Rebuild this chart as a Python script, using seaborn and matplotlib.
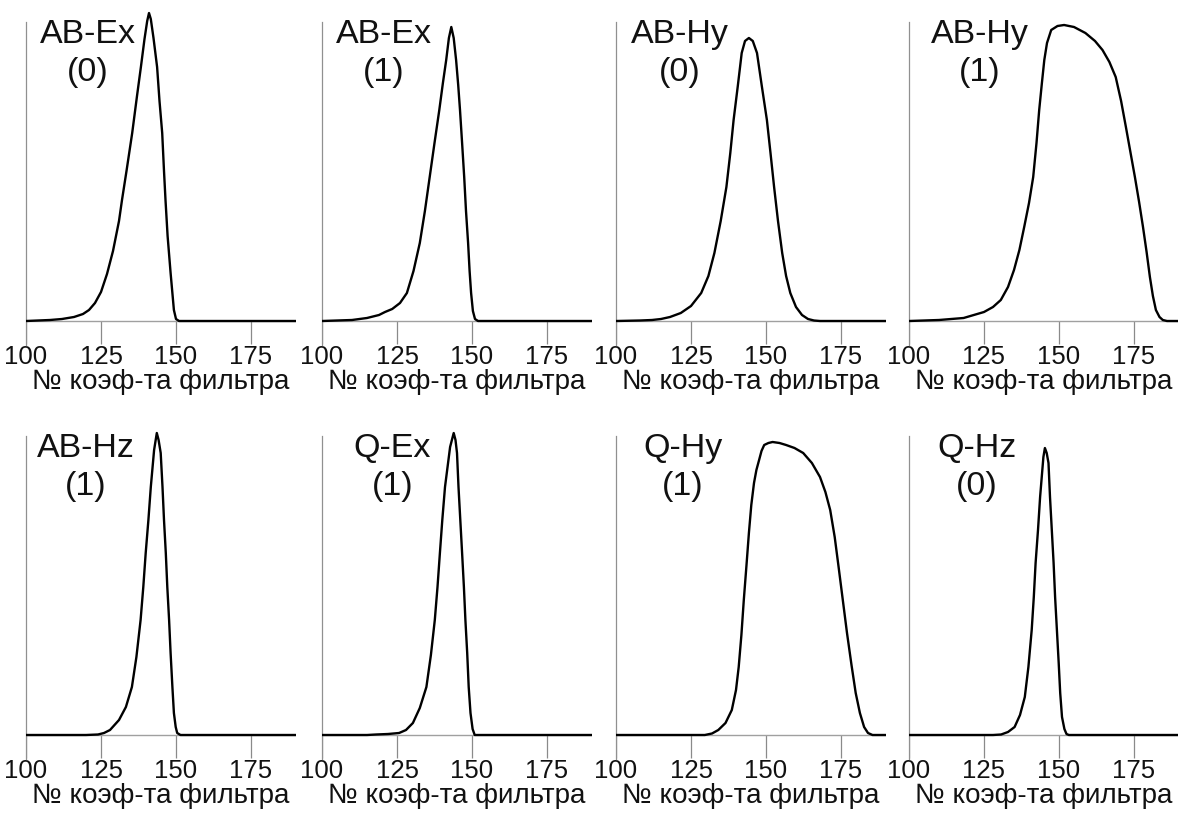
import matplotlib
matplotlib.use("Agg")
import matplotlib.pyplot as plt
import seaborn as sns

# filter coefficient number (x) and relative amplitude (y) for each panel
ab_ex0_x = [100, 108, 112, 116, 119, 121, 123, 125, 127, 129, 131, 132, 133.5, 135.4, 137, 138.3, 139.5,
            140.4, 141, 141.6, 142.5, 143.7, 144.5, 145.4, 146, 146.5, 147.2, 148.2, 149.3, 150, 151, 190]
ab_ex0_y = [0, 1, 2, 4, 7, 11, 18, 29, 47, 70, 100, 121, 150, 188, 225, 254, 282,
            300, 308, 302, 283, 254, 220, 188, 150, 121, 85, 48, 11, 2, 0, 0]

ab_ex1_x = [100, 110, 115, 119, 121, 123.4, 126, 128.3, 130.5, 132.6, 134.3, 135.9, 137.5, 139.1, 140.3,
            141.4, 142.3, 143.1, 143.9, 144.7, 145.4, 146, 146.7, 147.4, 148, 148.7, 149.2, 149.7, 150.3,
            151, 152, 190]
ab_ex1_y = [0, 1, 3, 6, 9, 12, 18, 28, 50, 78, 110, 144, 178, 211, 238,
            261, 283, 294, 283, 261, 236, 211, 178, 144, 110, 78, 50, 28, 10,
            2, 0, 0]

ab_hy0_x = [100, 108, 112, 115, 118, 121.6, 125, 128.4, 130.8, 132.8, 134.9, 136.8, 138.1, 139.2, 140.6,
            141.9, 143, 144.3, 145.6, 147, 148.6, 150.3, 151.5, 152.7, 154, 155.4, 156.7, 158.1, 160, 162,
            164, 166, 168, 190]
ab_hy0_y = [0, 0.5, 1, 2, 4, 8, 15, 28, 45, 68, 100, 134, 168, 201, 235,
            268, 280, 283, 280, 268, 235, 201, 168, 134, 100, 68, 45, 28, 14, 6,
            2, 0.5, 0, 0]

ab_hy1_x = [100, 110, 118.2, 125, 128, 130.6, 133, 135, 136.8, 138.4, 140, 141.4, 142.5, 143.4, 144.3,
            145.1, 146, 147.4, 149.5, 151.7, 155, 158.8, 162, 164.5, 166.8, 168.9, 170.7, 172.3, 173.8,
            175.3, 176.7, 178, 179.2, 180.3, 181.3, 182.3, 183.5, 184.6, 186, 190]
ab_hy1_y = [0, 1, 3, 9, 14, 21, 34, 51, 71, 94, 118, 144, 178, 211, 238,
            261, 278, 291, 295, 296, 294, 288, 280, 271, 259, 244, 220, 194, 169,
            144, 119, 94, 69, 44, 25, 11, 4, 1, 0, 0]

ab_hz1_x = [100, 120, 124, 126, 128, 131, 133.3, 135.3, 136.8, 138.2, 139.1, 139.9, 140.8, 141.6, 142.7,
            143.6, 144.2, 144.9, 145.5, 146, 146.6, 147.1, 147.7, 148.2, 148.8, 149.3, 149.9, 150.4,
            151.5, 190]
ab_hz1_y = [0, 0, 0.5, 2, 5, 15, 28, 48, 78, 115, 148, 182, 215, 248, 285,
            302, 295, 282, 248, 215, 182, 148, 115, 82, 48, 22, 8, 2,
            0, 0]

q_ex1_x = [100, 115, 118, 122, 125.7, 128, 130.3, 132.6, 134.8, 136.3, 137.6, 138.5, 139.3, 140.1, 141,
           142.7, 143.9, 144.5, 145, 145.5, 146.1, 146.7, 147.3, 147.8, 148.4, 148.9, 149.5, 150.2,
           150.9, 190]
q_ex1_y = [0, 0, 0.5, 1, 2, 5, 12, 27, 48, 80, 115, 148, 182, 215, 248,
           288, 302, 295, 282, 248, 215, 182, 148, 115, 82, 48, 22, 6,
           0, 0]

q_hy1_x = [100, 129.6, 132, 134.1, 136.5, 138.6, 140, 140.9, 141.8, 142.6, 143.5, 144.3, 145.1, 146,
           146.8, 147.7, 148.5, 149.4, 150.8, 152.2, 154.5, 156.7, 159.5, 162.4, 165.3, 168, 169.8,
           171.4, 172.9, 174.2, 175.6, 177, 178.5, 179.9, 181.3, 182.7, 184, 185.5, 190]
q_hy1_y = [0, 0, 1.5, 5, 12, 25, 45, 68, 100, 135, 170, 202, 230, 252,
           265, 275, 284, 290, 292, 293, 292, 290, 287, 282, 272, 258, 243,
           225, 198, 168, 135, 102, 70, 42, 22, 8, 2, 0, 0]

q_hz0_x = [100, 128, 130.7, 133, 135.2, 137, 138.6, 139.8, 140.9, 141.6, 142.2, 143, 143.7, 144.8,
           145.3, 145.9, 146.5, 147, 147.6, 148.2, 148.7, 149.3, 149.9, 150.4, 151, 151.8, 152.5,
           153.3, 190]
q_hz0_y = [0, 0, 0.5, 3, 8, 20, 38, 68, 105, 138, 172, 205, 238, 278,
           287, 282, 272, 238, 205, 172, 138, 105, 72, 42, 18, 6, 1,
           0, 0]

names = ["AB-Ex\n(0)", "AB-Ex\n(1)", "AB-Hy\n(0)", "AB-Hy\n(1)",
         "AB-Hz\n(1)", "Q-Ex\n(1)", "Q-Hy\n(1)", "Q-Hz\n(0)"]
curves = [(ab_ex0_x, ab_ex0_y), (ab_ex1_x, ab_ex1_y), (ab_hy0_x, ab_hy0_y), (ab_hy1_x, ab_hy1_y),
          (ab_hz1_x, ab_hz1_y), (q_ex1_x, q_ex1_y), (q_hy1_x, q_hy1_y), (q_hz0_x, q_hz0_y)]
xticks = [100, 125, 150, 175]
xlabel = "№ коэф-та фильтра"

# label centre positions (in x units)
label_x = [120.7, 120.7, 121.3, 123.5, 120.0, 123.5, 122.3, 122.6]

sns.set_theme(style="white")
plt.rcParams["font.family"] = ["Liberation Sans", "DejaVu Sans"]

W, H = 1178, 824
fig = plt.figure(figsize=(W / 100, H / 100), dpi=100)

lefts = [26, 322, 616, 909]
tops = [10, 424]
for i, (name, (xs, ys)) in enumerate(zip(names, curves)):
    r, c = divmod(i, 4)
    ax = fig.add_axes([lefts[c] / W, 1 - (tops[r] + 335) / H, 270 / W, 335 / H])
    ax.set_facecolor("none")
    # long tick marks hanging below the baseline
    ax.vlines(xticks, -23, 0, color="#8a8a8a", linewidth=0.9, zorder=1)
    sns.lineplot(x=xs, y=ys, ax=ax, color="black", linewidth=1.7, zorder=3)
    ax.set_xlim(100, 190)
    ax.set_ylim(-24, 311)
    for s in ["top", "right", "bottom"]:
        ax.spines[s].set_visible(False)
    ax.axhline(0, color="#a0a0a0", linewidth=1.0, zorder=2)
    ax.spines["left"].set_color("#909090")
    ax.spines["left"].set_linewidth(0.9)
    ax.spines["left"].set_bounds(-24, 299)
    ax.set_yticks([])
    ax.set_xticks(xticks)
    ax.tick_params(axis="x", length=0, pad=0, labelsize=18.5, labelcolor="#111111")
    ax.set_xlabel(xlabel, fontsize=20, color="#111111", labelpad=0)
    ax.text(label_x[i], 302, name, ha="center", va="top", fontsize=24.5,
            color="#111111", linespacing=1.3)

fig.savefig("out.png", dpi=100)
